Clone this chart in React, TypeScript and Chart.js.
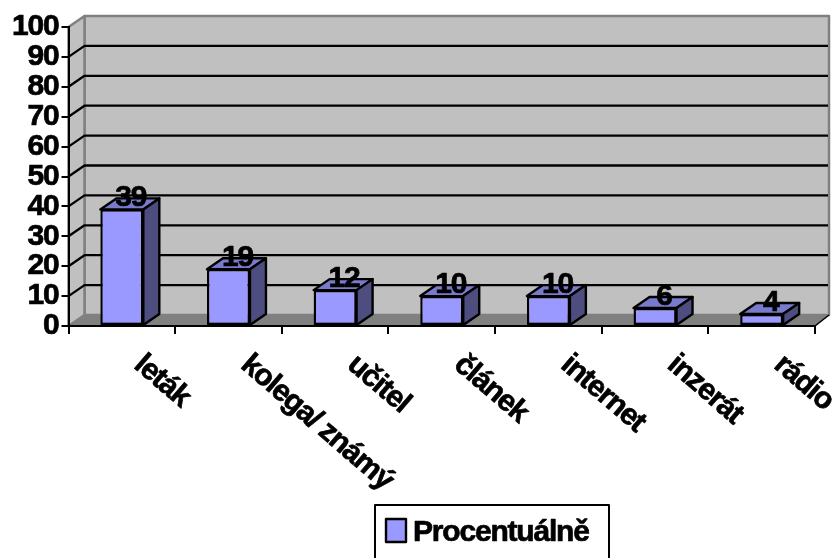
import React, { useEffect, useRef } from "react";
import { Chart, registerables } from "chart.js";

Chart.register(...registerables);

const categories = ["leták", "kolega/ známý", "učitel", "článek", "internet", "inzerát", "rádio"];
const seriesName = "Procentuálně";
const values = [39, 19, 12, 10, 10, 6, 4];

const FONT = '"Liberation Sans", Arial, sans-serif';
const SIZE = 30;
const BOLD = `bold ${SIZE}px ${FONT}`;
const TIGHT = "-1.2px";
const DX = 16;
const DY = 11;
const BAR = "#9999FF";
const BAR_TOP = "#7A7ACC";
const BAR_SIDE = "#4D4D80";
const WALL = "#C0C0C0";
const EDGE = "#808080";

function poly(ctx: CanvasRenderingContext2D, pts: number[][], fill: string, stroke: string, lw: number) {
  ctx.beginPath();
  pts.forEach((p, i) => (i ? ctx.lineTo(p[0], p[1]) : ctx.moveTo(p[0], p[1])));
  ctx.closePath();
  ctx.fillStyle = fill;
  ctx.fill();
  ctx.lineWidth = lw;
  ctx.strokeStyle = stroke;
  ctx.lineJoin = "round";
  ctx.stroke();
}

function heavyText(ctx: CanvasRenderingContext2D, s: string, x: number, y: number) {
  ctx.lineWidth = 0.7;
  ctx.strokeStyle = "#000";
  ctx.strokeText(s, x, y);
  ctx.fillText(s, x, y);
}

const walls = {
  id: "walls",
  beforeDraw(chart: any) {
    const { ctx, chartArea: a, scales } = chart;
    const y = scales.y;
    const backRight = a.right + DX - 2;
    (ctx as any).letterSpacing = TIGHT;
    ctx.save();
    poly(ctx, [[a.left + DX, a.top - DY], [backRight, a.top - DY], [backRight, a.bottom - DY], [a.left + DX, a.bottom - DY]], WALL, EDGE, 2.5);
    poly(ctx, [[a.left, a.top], [a.left + DX, a.top - DY], [a.left + DX, a.bottom - DY], [a.left, a.bottom]], WALL, EDGE, 2.5);
    poly(ctx, [[a.left, a.bottom], [a.left + DX, a.bottom - DY], [backRight, a.bottom - DY], [a.right, a.bottom]], EDGE, EDGE, 1);
    ctx.strokeStyle = "#000";
    ctx.lineWidth = 2.3;
    y.ticks.forEach((t: any) => {
      if (t.value === 0 || t.value === 100) return;
      const py = y.getPixelForValue(t.value);
      ctx.beginPath();
      ctx.moveTo(a.left, py);
      ctx.lineTo(a.left + DX, py - DY);
      ctx.lineTo(backRight - 1, py - DY);
      ctx.stroke();
    });
    ctx.lineWidth = 1.5;
    ctx.beginPath();
    ctx.moveTo(a.right, a.bottom);
    ctx.lineTo(backRight, a.bottom - DY);
    ctx.stroke();
    ctx.restore();
  },
};

const bars3d = {
  id: "bars3d",
  afterDatasetsDraw(chart: any) {
    const { ctx } = chart;
    const meta = chart.getDatasetMeta(0);
    ctx.save();
    meta.data.forEach((b: any) => {
      const l = b.x - b.width / 2;
      const r = b.x + b.width / 2;
      poly(ctx, [[l, b.y], [l + DX, b.y - DY], [r + DX, b.y - DY], [r, b.y]], BAR_TOP, "#000", 2.4);
      poly(ctx, [[r, b.y], [r + DX, b.y - DY], [r + DX, b.base - DY], [r, b.base]], BAR_SIDE, "#000", 2.4);
    });
    ctx.font = BOLD;
    ctx.fillStyle = "#000";
    ctx.textAlign = "center";
    ctx.textBaseline = "alphabetic";
    meta.data.forEach((b: any, i: number) => {
      heavyText(ctx, String(values[i]), b.x + 9, b.y - 3);
    });
    // rotated category labels
    const x = chart.scales.x;
    const a = chart.chartArea;
    ctx.textAlign = "left";
    categories.forEach((c, i) => {
      ctx.save();
      ctx.translate(x.getPixelForValue(i) + 11, a.bottom + 41);
      ctx.rotate(0.71);
      heavyText(ctx, c, 0, 0);
      ctx.restore();
    });
    // legend
    ctx.lineWidth = 2;
    ctx.strokeStyle = "#000";
    ctx.strokeRect(375, 505, 234, 60);
    ctx.fillStyle = BAR;
    ctx.fillRect(386, 519, 20, 23);
    ctx.lineWidth = 2.4;
    ctx.strokeRect(386, 519, 20, 23);
    ctx.fillStyle = "#000";
    ctx.textBaseline = "alphabetic";
    heavyText(ctx, seriesName, 413, 541);
    ctx.restore();
  },
};

export default function App() {
  const ref = useRef<HTMLCanvasElement>(null);
  useEffect(() => {
    const chart = new Chart(ref.current!, {
      type: "bar",
      data: {
        labels: categories,
        datasets: [
          {
            label: seriesName,
            data: values,
            backgroundColor: BAR,
            borderColor: "#000",
            borderWidth: 2.4,
            borderSkipped: false,
            barPercentage: 0.403,
            categoryPercentage: 1,
          },
        ],
      },
      options: {
        responsive: false,
        animation: false,
        devicePixelRatio: 1,
        layout: { padding: { top: 27, right: 20, left: 0, bottom: 0 } },
        plugins: { legend: { display: false }, tooltip: { enabled: false } },
        scales: {
          x: {
            afterFit: (s: any) => {
              s.height = 232;
            },
            grid: { drawOnChartArea: false, color: "#000", lineWidth: 2, tickLength: 8, tickColor: "#000" },
            border: { display: true, color: "#000", width: 2 },
            ticks: { display: false },
          },
          y: {
            min: 0,
            max: 100,
            afterFit: (s: any) => {
              s.width = 68.5;
            },
            grid: { drawOnChartArea: false, color: "#000", lineWidth: 2, tickLength: 7, tickColor: "#000" },
            border: { display: true, color: "#000", width: 2 },
            ticks: {
              stepSize: 10,
              autoSkip: false,
              padding: 3,
              color: "#000",
              textStrokeColor: "#000",
              textStrokeWidth: 0.7,
              font: { family: FONT, size: SIZE, weight: "bold", lineHeight: 1 },
            },
          },
        },
      },
      plugins: [walls, bars3d],
    } as any);
    return () => chart.destroy();
  }, []);
  return (
    <canvas
      ref={ref}
      width={835}
      height={558}
      style={{ position: "absolute", left: 0, top: 0, width: 835, height: 558, display: "block", background: "#fff" }}
    />
  );
}
